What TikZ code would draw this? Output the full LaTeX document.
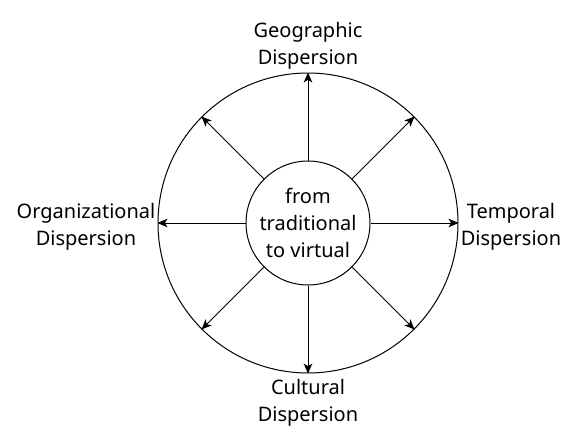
\documentclass[tikz,border=0pt]{standalone}
\usepackage{fontspec}
\setmainfont{Noto Sans}
\usetikzlibrary{arrows.meta}
\begin{document}
\begin{tikzpicture}[x=0.75pt,y=-0.75pt,
  ring/.style={draw,circle,line width=0.75pt,inner sep=0pt},
  spoke/.style={line width=0.75pt,-{Stealth[length=7.5pt,width=6.5pt,inset=2pt]}},
  lbl/.style={align=center,inner sep=1.5pt,font=\fontsize{15pt}{20.25pt}\selectfont}]
\useasboundingbox (0,0) rectangle (576,446);
\node[ring,minimum size=225pt] (outer) at (308,223) {};
\node[ring,minimum size=93pt,align=center,font=\fontsize{15pt}{20.25pt}\selectfont] (inner) at (308,223) {from\\traditional\\to virtual};
\foreach \a in {0,45,90,135,180,225,270,315}
  \draw[spoke] (inner.\a) -- (outer.\a);
\node[lbl,anchor=south,yshift=0.5pt] (geo) at (outer.north) {Geographic\\Dispersion};
\node[lbl,anchor=north,yshift=-3pt] (cult) at (outer.south) {Cultural\\Dispersion};
\node[lbl,anchor=east,yshift=-2.5pt] (org) at (outer.west) {Organizational\\Dispersion};
\node[lbl,anchor=west,yshift=-2.5pt] (temp) at (outer.east) {Temporal\\Dispersion};
\end{tikzpicture}
\end{document}
